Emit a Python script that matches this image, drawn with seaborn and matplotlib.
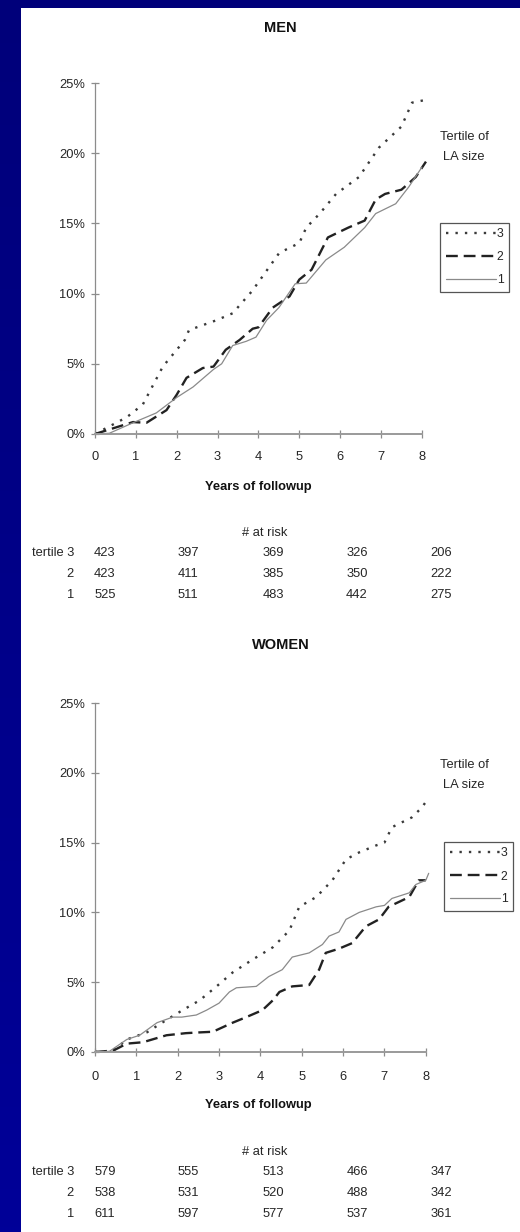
import numpy as np
import pandas as pd
import seaborn as sns
import matplotlib.pyplot as plt
from matplotlib.patches import Rectangle

# --- dados ---
men_t3_x = [0, 0.78, 1.17, 1.66, 2.2, 2.3, 2.97, 3.37, 3.85, 4.51, 5.0, 5.17, 5.5, 5.9, 6.46, 6.95, 7.5, 7.76, 8.1]
men_t3_y = [0, 1.2, 2.1, 4.8, 6.7, 7.4, 8.1, 8.6, 10.2, 12.9, 13.6, 14.7, 15.7, 17.1, 18.3, 20.4, 21.9, 23.6, 23.8]
men_t2_x = [0, 0.93, 1.26, 1.75, 2.0, 2.24, 2.64, 2.9, 3.2, 3.54, 3.86, 4.0, 4.35, 4.76, 5.0, 5.3, 5.7, 6.2, 6.6, 6.87, 7.1, 7.5, 7.85, 8.1]
men_t2_y = [0, 0.85, 0.8, 1.7, 2.8, 4.0, 4.7, 4.8, 6.0, 6.7, 7.5, 7.6, 9.0, 9.8, 11.0, 11.7, 14.0, 14.7, 15.2, 16.7, 17.1, 17.4, 18.3, 19.4]
men_t1_x = [0, 0.35, 0.93, 1.5, 2.0, 2.4, 2.9, 3.1, 3.37, 3.7, 3.94, 4.2, 4.5, 4.9, 5.17, 5.65, 6.1, 6.6, 6.87, 7.36, 7.68, 8.0]
men_t1_y = [0, 0.05, 0.8, 1.5, 2.6, 3.35, 4.6, 5.0, 6.3, 6.6, 6.9, 8.1, 9.0, 10.7, 10.75, 12.4, 13.3, 14.7, 15.7, 16.4, 17.6, 19.0]

women_t3_x = [0, 0.44, 0.77, 1.25, 1.73, 2.12, 2.53, 2.94, 3.33, 3.8, 4.3, 4.7, 4.94, 5.35, 5.74, 6.07, 6.39, 6.8, 7.0, 7.18, 7.66, 7.9, 8.07]
women_t3_y = [0, 0.1, 0.9, 1.4, 2.3, 3.0, 3.7, 4.7, 5.7, 6.6, 7.5, 8.7, 10.4, 11.1, 12.3, 13.8, 14.3, 14.8, 15.0, 16.1, 16.8, 17.5, 18.2]
women_t2_x = [0, 0.44, 0.77, 1.16, 1.73, 2.2, 2.5, 2.85, 3.33, 3.66, 4.05, 4.3, 4.46, 4.77, 5.18, 5.42, 5.58, 5.9, 6.22, 6.55, 6.87, 7.1, 7.6, 7.83, 8.0]
women_t2_y = [0, 0.1, 0.6, 0.7, 1.2, 1.35, 1.4, 1.45, 2.1, 2.5, 3.0, 3.7, 4.3, 4.7, 4.8, 5.9, 7.1, 7.4, 7.8, 9.0, 9.5, 10.4, 11.1, 12.3, 12.3]
women_t1_x = [0, 0.35, 0.77, 1.08, 1.5, 1.88, 2.1, 2.45, 2.7, 3.0, 3.25, 3.42, 3.9, 4.2, 4.53, 4.77, 5.18, 5.5, 5.66, 5.9, 6.07, 6.39, 6.8, 7.0, 7.18, 7.6, 7.76, 8.0, 8.07]
women_t1_y = [0, 0.05, 0.9, 1.2, 2.1, 2.5, 2.5, 2.65, 3.0, 3.5, 4.3, 4.6, 4.7, 5.4, 5.9, 6.8, 7.1, 7.7, 8.3, 8.6, 9.5, 10.0, 10.4, 10.5, 11.0, 11.4, 12.0, 12.3, 12.8]

# numero em risco (anos 0, 2, 4, 6, 8)
risk_rows = ["tertile 3", "2", "1"]
men_risk = [[423, 397, 369, 326, 206],
            [423, 411, 385, 350, 222],
            [525, 511, 483, 442, 275]]
women_risk = [[579, 555, 513, 466, 347],
              [538, 531, 520, 488, 342],
              [611, 597, 577, 537, 361]]

tertiles = ["3", "2", "1"]

# --- estilo ---
sns.set_theme(style="white")
plt.rcParams["font.family"] = ["Liberation Sans", "DejaVu Sans"]

W, H = 520, 1232
fig = plt.figure(figsize=(W / 100, H / 100), dpi=100)

# fundo azul + painel branco
bg = fig.add_axes([0, 0, 1, 1], zorder=-10)
grad = np.linspace(0, 1, 256).reshape(-1, 1)
bg.imshow(grad, aspect="auto", cmap=sns.blend_palette(["#00007a", "#000098"], as_cmap=True),
          extent=[0, 1, 0, 1], origin="upper")
bg.add_patch(Rectangle((21 / W, 0), 1 - 21 / W, 1 - 8 / H, facecolor="white", edgecolor="none"))
bg.set_axis_off()

TXT = "#262626"
FS = 9.3


def fx(px):
    return px / W


def fy(py):
    return 1 - py / H


def make_df(xs, ys):
    partes = []
    for t, x, y in zip(tertiles, xs, ys):
        partes.append(pd.DataFrame({"year": x, "pct": y, "tertile": t}))
    return pd.concat(partes, ignore_index=True)


def painel(left, top, right, bottom, df, risk, risk_y, leg_box, tert_y, xt_y, xl_y):
    ax = fig.add_axes([fx(left), fy(bottom), fx(right - left), (bottom - top) / H])
    sns.lineplot(data=df, x="year", y="pct", hue="tertile", style="tertile",
                 hue_order=tertiles, style_order=tertiles,
                 palette={"3": "#3a3a3a", "2": "#222222", "1": "#8a8a8a"},
                 dashes={"3": (1, 3), "2": (5, 2.5), "1": ""},
                 estimator=None, sort=False, legend=False, ax=ax)
    lws = [1.7, 1.7, 0.9]
    for ln, lw in zip(ax.lines, lws):
        ln.set_linewidth(lw)

    ax.set_xlim(0, 8.15)
    ax.set_ylim(0, 25)
    ax.set_xticks(range(0, 9))
    ax.set_yticks([0, 5, 10, 15, 20, 25])
    ax.set_yticklabels([f"{v}%" for v in [0, 5, 10, 15, 20, 25]])
    ax.set_xticklabels([])
    for s in ["top", "right"]:
        ax.spines[s].set_visible(False)
    ax.spines["left"].set_color("#8c8c8c")
    ax.spines["bottom"].set_color("#9a9a9a")
    ax.spines["left"].set_linewidth(0.9)
    ax.spines["bottom"].set_linewidth(1.4)
    ax.spines["bottom"].set_bounds(0, 8)
    ax.tick_params(axis="both", direction="inout", length=6, width=0.9, colors="#8c8c8c",
                   labelcolor=TXT, labelsize=FS, bottom=True, left=True)
    ax.tick_params(axis="y", pad=4)
    ax.set_xlabel("")
    ax.set_ylabel("")
    ax.set_facecolor("none")

    # rotulos do eixo x
    for i in range(0, 9):
        fig.text(fx(left + i * (right - left) / 8.15), fy(xt_y), str(i),
                 ha="center", va="center", fontsize=FS, color=TXT)

    fig.text(fx(258), fy(xl_y), "Years of followup", ha="center", va="center",
             fontsize=9.3, fontweight="bold", color="#111111")

    # legenda
    handles = ax.lines[:3]
    lx0, ly0, lx1, ly1 = leg_box
    leg = fig.legend(handles, tertiles, loc="upper left",
                     bbox_to_anchor=(fx(lx0), fy(ly0)), bbox_transform=fig.transFigure,
                     frameon=True, fancybox=False, fontsize=8.8, handlelength=4.1,
                     handletextpad=0.1, labelspacing=0.9, borderpad=0.45,
                     borderaxespad=0, framealpha=1)
    leg.get_frame().set_edgecolor("#555555")
    leg.get_frame().set_linewidth(0.9)

    fig.text(fx(464), fy(tert_y), "Tertile of", ha="center", va="center", fontsize=FS, color=TXT)
    fig.text(fx(464), fy(tert_y + 20), "LA size", ha="center", va="center", fontsize=FS, color=TXT)

    # tabela de numero em risco
    fig.text(fx(265), fy(risk_y), "# at risk", ha="center", va="center", fontsize=FS, color=TXT)
    col_x = [105, 188, 273, 357, 441]
    for r, (lab, vals) in enumerate(zip(risk_rows, risk)):
        yy = risk_y + 20 + 21 * r
        fig.text(fx(74), fy(yy), lab, ha="right", va="center", fontsize=FS, color=TXT)
        for cx, v in zip(col_x, vals):
            fig.text(fx(cx), fy(yy), str(v), ha="center", va="center", fontsize=FS, color=TXT)

    return ax


fig.text(fx(280), fy(28), "MEN", ha="center", va="center", fontsize=10.5,
         fontweight="bold", color="#111111")
painel(95, 83, 428, 434, make_df([men_t3_x, men_t2_x, men_t1_x], [men_t3_y, men_t2_y, men_t1_y]),
       men_risk, 533, (440, 223, 509, 297), 137, 457, 487)

fig.text(fx(281), fy(645), "WOMEN", ha="center", va="center", fontsize=10.5,
         fontweight="bold", color="#111111")
painel(95, 703, 432, 1052, make_df([women_t3_x, women_t2_x, women_t1_x], [women_t3_y, women_t2_y, women_t1_y]),
       women_risk, 1152, (444, 842, 512, 913), 765, 1077, 1105)

fig.savefig("out.png", dpi=100)
